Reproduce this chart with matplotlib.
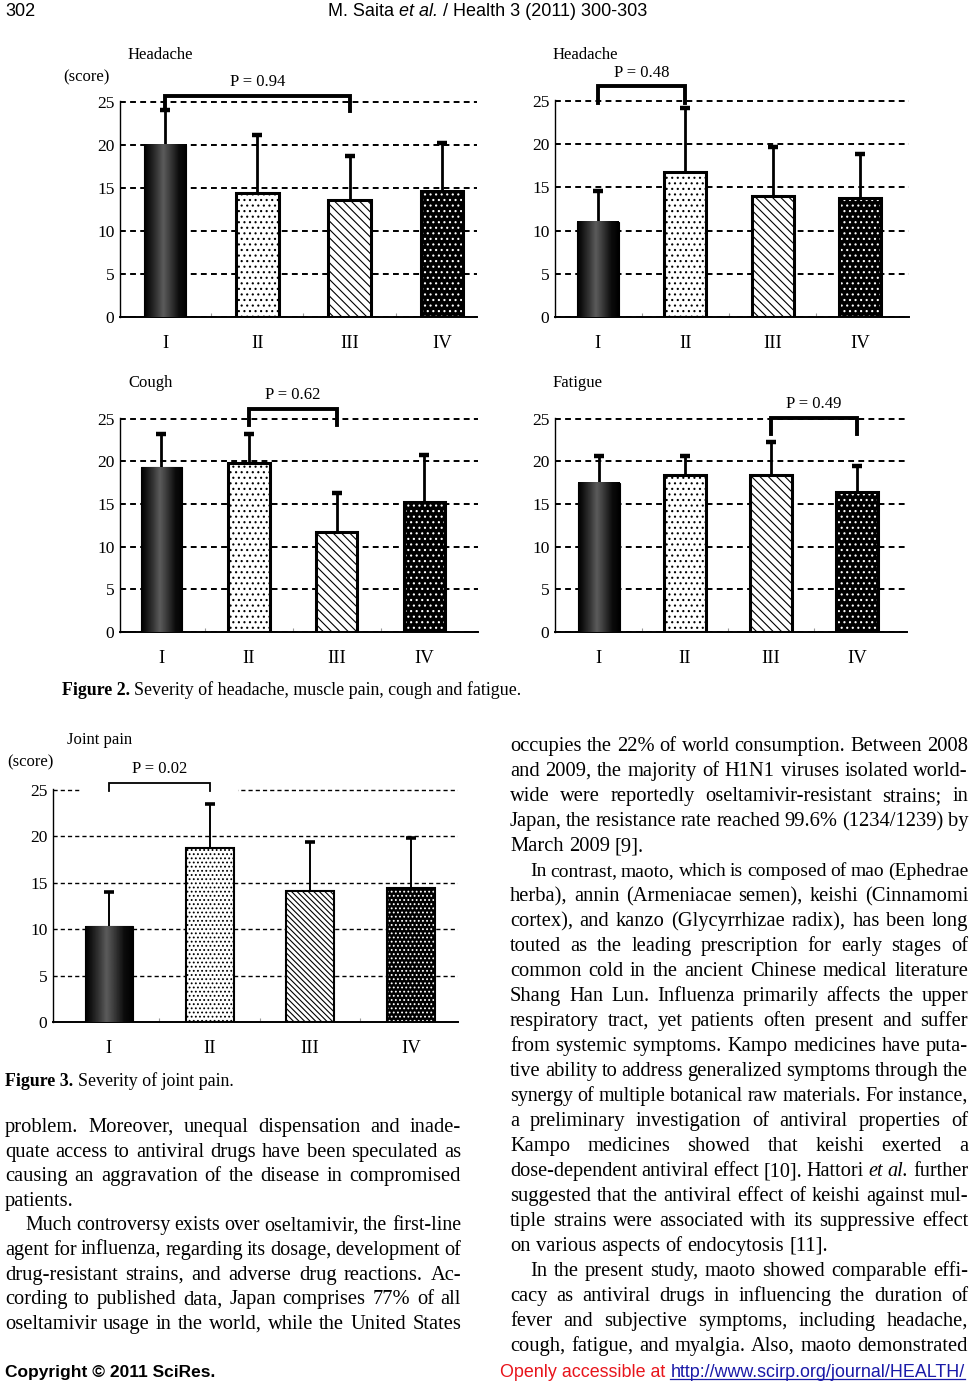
import numpy as np
import matplotlib
matplotlib.use("Agg")
import matplotlib.pyplot as plt
from matplotlib.patches import Rectangle

W, H = 972, 1388
plt.rcParams['font.family'] = 'Liberation Serif'
plt.rcParams['hatch.linewidth'] = 0.8

# data
groups = ["I", "II", "III", "IV"]
ticks = [0, 5, 10, 15, 20, 25]

headache_a_mean = [20.0, 14.4, 13.6, 14.6]
headache_a_sd = [4.0, 6.7, 5.1, 5.6]
headache_b_mean = [11.0, 16.8, 14.0, 13.8]
headache_b_sd = [3.6, 7.4, 5.7, 5.1]
cough_mean = [19.3, 19.8, 11.7, 15.2]
cough_sd = [3.9, 3.4, 4.6, 5.6]
fatigue_mean = [17.5, 18.4, 18.4, 16.4]
fatigue_sd = [3.2, 2.3, 3.9, 3.1]
joint_mean = [10.3, 18.7, 14.1, 14.4]
joint_sd = [3.7, 4.8, 5.3, 5.4]

# bracket: (from group, to group, top, left end, right end, label)
headache_a_p = (0, 2, 25.7, 24.0, 23.9, "P = 0.94")
headache_b_p = (0, 1, 26.7, 24.8, 24.8, "P = 0.48")
cough_p = (1, 2, 26.2, 24.3, 24.3, "P = 0.62")
fatigue_p = (2, 3, 25.1, 23.2, 23.2, "P = 0.49")
joint_p = (0, 1, 25.8, 24.9, 24.9, "P = 0.02")

fig = plt.figure(figsize=(W / 100, H / 100), dpi=100)
renderer = fig.canvas.get_renderer()


def px(x, y):
    return x / W, 1 - y / H


# shading used for the first (cylinder like) bar
shade_x = np.linspace(0, 1, 80)
shade = np.interp(shade_x, [0, 0.1, 0.3, 0.45, 0.6, 0.82, 1],
                  [0.0, 0.06, 0.22, 0.36, 0.24, 0.05, 0.0])


def panel(rect, xlim, width, means, sds, brk, title, score=False,
          thin=False, title_xy=None, score_xy=None):
    l, t, r, b = rect
    ax = fig.add_axes([l / W, 1 - b / H, (r - l) / W, (b - t) / H])
    x = np.arange(len(groups))
    means = np.array(means)
    sds = np.array(sds)
    elw = 1.4 if thin else 2.0
    edge = 1.5 if thin else 2.2

    b0 = ax.bar(x[0], means[0], width, color='black', edgecolor='black',
                linewidth=0.8, zorder=3)[0]
    ax.imshow(np.tile(shade, (2, 1)), cmap='gray', vmin=0, vmax=1,
              extent=[b0.get_x(), b0.get_x() + width, 0, means[0]],
              aspect='auto', zorder=3.5, interpolation='bilinear')
    ax.bar(x[1], means[1], width, color='white', edgecolor='black',
           hatch='....' if thin else '...', linewidth=edge, zorder=3)
    ax.bar(x[2], means[2], width, color='white', edgecolor='black',
           hatch='\\\\\\\\\\\\' if thin else '\\\\\\\\', linewidth=edge, zorder=3)
    ax.bar(x[3], means[3], width, color='black', edgecolor='white',
           hatch='....' if thin else '...', linewidth=0, zorder=3)
    ax.bar(x[3], means[3], width, fill=False, edgecolor='black',
           linewidth=edge, zorder=3.6)

    ax.vlines(x, means, means + sds, color='black', lw=elw, zorder=2)
    ax.plot(x, means + sds, ls='none', marker='_', ms=7, mew=elw + 1.2,
            color='black', zorder=2)

    i, j, top, lo_a, lo_b, label = brk
    ax.plot([x[i], x[i], x[j], x[j]], [lo_a, top, top, lo_b], color='black',
            lw=1.3 if thin else 2.8, solid_joinstyle='miter', clip_on=False,
            zorder=5)
    ax.annotate(label, ((x[i] + x[j]) / 2, top), xytext=(0, 4),
                textcoords='offset points', ha='center', va='bottom',
                fontsize=12, annotation_clip=False)

    ax.set_xlim(*xlim)
    ax.set_ylim(0, 25.1)
    ax.set_yticks(ticks)
    ax.set_xticks(x)
    ax.set_xticklabels(groups, fontsize=13.5)
    ax.tick_params(axis='y', length=0, pad=4, labelsize=12.5)
    ax.tick_params(axis='x', length=0, pad=13)
    ax.set_xticks([0.5, 1.5, 2.5], minor=True)
    ax.tick_params(axis='x', which='minor', direction='in', length=3,
                   color='0.6', width=0.8)
    ax.yaxis.grid(True, linestyle=(0, (3, 2.2)), color='black',
                  lw=1.0 if thin else 1.4)
    ax.set_axisbelow(True)
    for s in ['top', 'right']:
        ax.spines[s].set_visible(False)
    ax.spines['left'].set_linewidth(1.0)
    ax.spines['bottom'].set_linewidth(1.4)
    ax.patch.set_visible(False)

    fig.text(*px(*title_xy), title, fontsize=12, va='center')
    if score:
        fig.text(*px(*score_xy), "(score)", fontsize=12, va='center')
    return ax


panel((120, 101, 477, 317), (-0.487, 3.38), 0.46, headache_a_mean,
      headache_a_sd, headache_a_p, "Headache", score=True,
      title_xy=(128, 55), score_xy=(63, 77))
panel((555, 100, 909, 317), (-0.49, 3.56), 0.48, headache_b_mean,
      headache_b_sd, headache_b_p, "Headache", title_xy=(553, 55))
panel((120, 418, 478, 632), (-0.47, 3.61), 0.47, cough_mean, cough_sd,
      cough_p, "Cough", title_xy=(128, 383))
panel((555, 418, 907, 632), (-0.51, 3.58), 0.48, fatigue_mean, fatigue_sd,
      fatigue_p, "Fatigue", title_xy=(553, 383))
axj = panel((53, 789, 458, 1022), (-0.556, 3.47), 0.477, joint_mean,
            joint_sd, joint_p, "Joint pain", score=True, thin=True,
            title_xy=(67, 740), score_xy=(7, 762))
# gap in the top grid line behind the bracket
axj.add_patch(Rectangle((0.067, 0.97), 0.387, 0.06, transform=axj.transAxes,
                        color='white', zorder=1, clip_on=False))


# ---- page text ----
def text_width(s, **kw):
    t = fig.text(0, 0, s, **kw)
    w = t.get_window_extent(renderer).width
    t.remove()
    return w


def runs(items, x, y, size, family, ha='left', underline=None):
    sp = text_width("a a", fontsize=size, family=family) - \
        text_width("aa", fontsize=size, family=family)
    ws = [text_width(s, fontsize=size, family=family, **kw) for s, kw in items]
    total = sum(ws) + sp * (len(ws) - 1)
    if ha == 'center':
        x = x - total / 2
    for (s, kw), w in zip(items, ws):
        fig.text(*px(x, y), s, fontsize=size, family=family, va='baseline', **kw)
        if underline is not None and s == underline:
            fig.add_artist(plt.Line2D([x / W, (x + w) / W],
                                      [1 - (y + 2) / H] * 2,
                                      color=kw.get('color', 'black'), lw=0.9))
        x += w + sp


BODY = 14.8
FAM = 'Liberation Serif'


def para_line(line, x0, x1, y, justify, indent=0):
    words = line.split()
    items = []
    for w in words:
        style = 'normal'
        if w.startswith('*') and w.endswith('*') and len(w) > 2:
            w = w.strip('*')
            style = 'italic'
        items.append((w, style))
    start = x0 + indent
    size = BODY
    while True:
        ws = [text_width(w, fontsize=size, family=FAM, style=st)
              for w, st in items]
        sp = text_width("a a", fontsize=size, family=FAM) - \
            text_width("aa", fontsize=size, family=FAM)
        if justify and len(items) > 1:
            gap = (x1 - start - sum(ws)) / (len(items) - 1)
        else:
            gap = sp
        # squeeze the type a little where a line is too full
        if gap >= 0.75 * sp or size < BODY - 2:
            break
        size -= 0.2
    x = start
    for (w, st), wd in zip(items, ws):
        fig.text(*px(x, y), w, fontsize=size, family=FAM, style=st,
                 va='baseline')
        x += wd + gap


right_lines = [
    ("occupies the 22% of world consumption. Between 2008", True, 0),
    ("and 2009, the majority of H1N1 viruses isolated world-", True, 0),
    ("wide were reportedly oseltamivir-resistant strains; in", True, 0),
    ("Japan, the resistance rate reached 99.6% (1234/1239) by", True, 0),
    ("March 2009 [9].", False, 0),
    ("In contrast, maoto, which is composed of mao (Ephedrae", True, 20),
    ("herba), annin (Armeniacae semen), keishi (Cinnamomi", True, 0),
    ("cortex), and kanzo (Glycyrrhizae radix), has been long", True, 0),
    ("touted as the leading prescription for early stages of", True, 0),
    ("common cold in the ancient Chinese medical literature", True, 0),
    ("Shang Han Lun. Influenza primarily affects the upper", True, 0),
    ("respiratory tract, yet patients often present and suffer", True, 0),
    ("from systemic symptoms. Kampo medicines have puta-", True, 0),
    ("tive ability to address generalized symptoms through the", True, 0),
    ("synergy of multiple botanical raw materials. For instance,", True, 0),
    ("a preliminary investigation of antiviral properties of", True, 0),
    ("Kampo medicines showed that keishi exerted a", True, 0),
    ("dose-dependent antiviral effect [10]. Hattori *et* *al.* further", True, 0),
    ("suggested that the antiviral effect of keishi against mul-", True, 0),
    ("tiple strains were associated with its suppressive effect", True, 0),
    ("on various aspects of endocytosis [11].", False, 0),
    ("In the present study, maoto showed comparable effi-", True, 20),
    ("cacy as antiviral drugs in influencing the duration of", True, 0),
    ("fever and subjective symptoms, including headache,", True, 0),
    ("cough, fatigue, and myalgia. Also, maoto demonstrated", True, 0),
]
left_lines = [
    ("problem. Moreover, unequal dispensation and inade-", True, 0),
    ("quate access to antiviral drugs have been speculated as", True, 0),
    ("causing an aggravation of the disease in compromised", True, 0),
    ("patients.", False, 0),
    ("Much controversy exists over oseltamivir, the first-line", True, 20),
    ("agent for influenza, regarding its dosage, development of", True, 0),
    ("drug-resistant strains, and adverse drug reactions. Ac-", True, 0),
    ("cording to published data, Japan comprises 77% of all", True, 0),
    ("oseltamivir usage in the world, while the United States", True, 0),
]

for k, (s, j, ind) in enumerate(right_lines):
    para_line(s, 510, 968, 751 + 25 * k, j, ind)
for k, (s, j, ind) in enumerate(left_lines):
    para_line(s, 5, 461, 1132 + 24.6 * k, j, ind)

# captions
runs([("Figure 2.", dict(weight='bold')),
      ("Severity of headache, muscle pain, cough and fatigue.", {})],
     62, 695, 12.9, FAM)
runs([("Figure 3.", dict(weight='bold')), ("Severity of joint pain.", {})],
     5, 1086, 12.9, FAM)

# header and footer
SANS_N = ['Liberation Sans Narrow', 'Liberation Sans']
runs([("302", {})], 5, 16, 13, SANS_N)
runs([("M. Saita", {}), ("et al.", dict(style='italic')),
      ("/ Health 3 (2011) 300-303", {})], 488, 16, 13, SANS_N, ha='center')
runs([("Copyright © 2011 SciRes.", dict(weight='bold'))], 5, 1377, 12.5,
     'Liberation Sans')
runs([("Openly accessible at", dict(color='#e8141b')),
      ("http://www.scirp.org/journal/HEALTH/", dict(color='#1a1aa8'))],
     500, 1377, 12.9, SANS_N, underline="http://www.scirp.org/journal/HEALTH/")

fig.savefig("out.png", dpi=100)
